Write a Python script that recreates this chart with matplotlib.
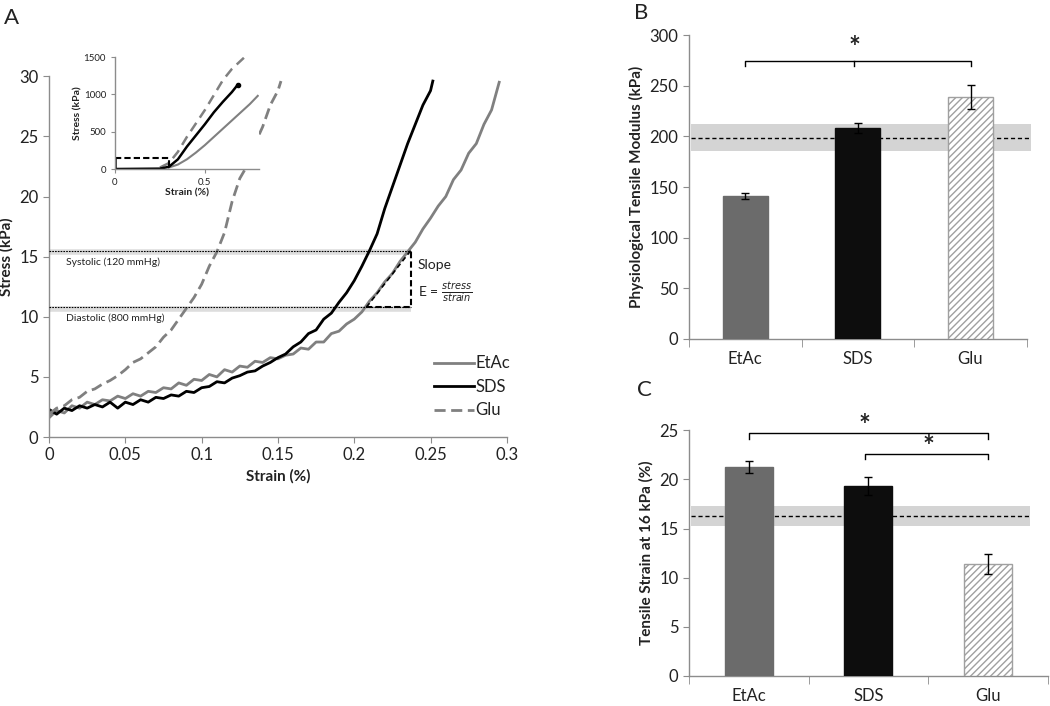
import matplotlib
matplotlib.use('Agg')
import matplotlib.pyplot as plt

plt.rcParams['font.family'] = ['Lato', 'DejaVu Sans']
plt.rcParams['mathtext.fontset'] = 'dejavusans'

# ---- panel A: stress-strain curves ----
etac_strain = [0.000, 0.005, 0.010, 0.015, 0.020, 0.025, 0.030, 0.035, 0.040, 0.045,
               0.050, 0.055, 0.060, 0.065, 0.070, 0.075, 0.080, 0.085, 0.090, 0.095,
               0.100, 0.105, 0.110, 0.115, 0.120, 0.125, 0.130, 0.135, 0.140, 0.145,
               0.150, 0.155, 0.160, 0.165, 0.170, 0.175, 0.180, 0.185, 0.190, 0.195,
               0.200, 0.205, 0.210, 0.215, 0.220, 0.225, 0.230, 0.235, 0.240, 0.245,
               0.250, 0.255, 0.260, 0.265, 0.270, 0.275, 0.280, 0.285, 0.290, 0.295]
etac_stress = [1.6, 2.2, 2.0, 2.6, 2.4, 2.9, 2.7, 3.1, 3.0, 3.4,
               3.2, 3.6, 3.4, 3.8, 3.7, 4.1, 4.0, 4.5, 4.3, 4.8,
               4.7, 5.2, 5.0, 5.6, 5.4, 5.9, 5.8, 6.3, 6.2, 6.6,
               6.5, 6.8, 6.9, 7.4, 7.3, 7.9, 7.9, 8.6, 8.8, 9.4,
               9.8, 10.4, 11.3, 12.0, 12.9, 13.6, 14.6, 15.4, 16.2, 17.3,
               18.2, 19.2, 20.0, 21.4, 22.2, 23.6, 24.4, 26.0, 27.2, 29.5]

sds_strain = [0.000, 0.005, 0.010, 0.015, 0.020, 0.025, 0.030, 0.035, 0.040, 0.045,
              0.050, 0.055, 0.060, 0.065, 0.070, 0.075, 0.080, 0.085, 0.090, 0.095,
              0.100, 0.105, 0.110, 0.115, 0.120, 0.125, 0.130, 0.135, 0.140, 0.145,
              0.150, 0.155, 0.160, 0.165, 0.170, 0.175, 0.180, 0.185, 0.190, 0.195,
              0.200, 0.205, 0.210, 0.215, 0.220, 0.225, 0.230, 0.235, 0.240, 0.245,
              0.250, 0.2515]
sds_stress = [2.3, 1.9, 2.4, 2.2, 2.6, 2.4, 2.7, 2.5, 2.9, 2.4,
              2.9, 2.7, 3.1, 2.9, 3.3, 3.2, 3.5, 3.4, 3.8, 3.7,
              4.1, 4.2, 4.6, 4.5, 4.9, 5.1, 5.4, 5.5, 5.9, 6.2,
              6.6, 6.9, 7.5, 7.9, 8.6, 8.9, 9.8, 10.3, 11.2, 12.0,
              13.0, 14.2, 15.5, 16.9, 19.0, 20.8, 22.6, 24.4, 26.0, 27.6,
              28.8, 29.6]

glu_strain = [0.000, 0.005, 0.010, 0.015, 0.020, 0.025, 0.030, 0.035, 0.040, 0.045,
              0.050, 0.055, 0.060, 0.065, 0.070, 0.075, 0.080, 0.085, 0.090, 0.095,
              0.100, 0.105, 0.110, 0.115, 0.120, 0.125, 0.130, 0.135, 0.140, 0.145,
              0.150, 0.152]
glu_stress = [1.9, 2.4, 2.6, 3.1, 3.3, 3.8, 4.0, 4.4, 4.7, 5.1,
              5.6, 6.2, 6.5, 7.0, 7.5, 8.3, 8.9, 9.8, 10.7, 11.6,
              12.7, 14.2, 15.4, 17.0, 19.6, 21.5, 22.6, 24.4, 25.8, 27.6,
              28.8, 29.6]

systolic, diastolic = 15.5, 10.8
slope_x = [0.208, 0.237]

# inset: full curves
in_sds_x = [0.0, 0.25, 0.30, 0.35, 0.40, 0.45, 0.50, 0.55, 0.60, 0.65, 0.683]
in_sds_y = [0, 5, 30, 130, 300, 450, 600, 760, 900, 1030, 1130]
in_glu_x = [0.25, 0.30, 0.35, 0.40, 0.45, 0.50, 0.55, 0.60, 0.65, 0.717]
in_glu_y = [20, 80, 230, 430, 610, 790, 990, 1190, 1340, 1490]
in_etac_x = [0.30, 0.35, 0.40, 0.45, 0.50, 0.55, 0.60, 0.65, 0.70, 0.75, 0.794]
in_etac_y = [20, 60, 130, 220, 320, 430, 540, 650, 760, 870, 980]

# ---- panels B and C: bars ----
groups = ['EtAc', 'SDS', 'Glu']
modulus = [141, 208, 239]
modulus_err = [3, 5, 12]
modulus_native, modulus_band = 199, (186, 212)
strain16 = [21.3, 19.3, 11.4]
strain16_err = [0.6, 0.9, 1.0]
strain_native, strain_band = 16.3, (15.3, 17.3)

GRAY = '#808080'
SPINE = '#8c8c8c'
TXT = '#222222'

plt.rcParams['hatch.color'] = '#a0a0a0'
plt.rcParams['hatch.linewidth'] = 1.0

fig = plt.figure(figsize=(10.5, 7.06), dpi=100)


def style(ax, fs=11):
    for s in ('top', 'right'):
        ax.spines[s].set_visible(False)
    for s in ('left', 'bottom'):
        ax.spines[s].set_color(SPINE)
        ax.spines[s].set_linewidth(1.0)
    ax.tick_params(colors=SPINE, labelcolor=TXT, labelsize=fs, length=4,
                   direction='out')


# A
ax = fig.add_axes([0.0467, 0.381, 0.436, 0.511])
style(ax, 12)
ax.plot(etac_strain, etac_stress, color=GRAY, lw=2.0, label='EtAc')
ax.plot(sds_strain, sds_stress, color='black', lw=2.0, label='SDS')
ax.plot(glu_strain, glu_stress, color=GRAY, lw=2.0, ls=(0, (4, 2)), label='Glu')
for yv in (systolic, diastolic):
    ax.plot([0, slope_x[1]], [yv - 0.12, yv - 0.12], color='#dddddd', lw=4,
            zorder=1, solid_capstyle='butt')
    ax.plot([0, slope_x[1]], [yv, yv], color='black', lw=0.8, ls=(0, (1.5, 1)),
            zorder=3)
ax.plot([slope_x[0], slope_x[1], slope_x[1]], [diastolic, diastolic, systolic],
        color='black', lw=1.5, ls=(0, (3, 1.5)), zorder=4)
ax.plot(slope_x, [diastolic, systolic], color='black', lw=1.2,
        ls=(0, (3, 2)), zorder=4)
ax.text(0.011, systolic - 0.55, 'Systolic (120 mmHg)', fontsize=7.5, va='top',
        color=TXT)
ax.text(0.011, diastolic - 0.55, 'Diastolic (800 mmHg)', fontsize=7.5, va='top',
        color=TXT)
ax.text(0.2418, 14.3, 'Slope', fontsize=10, va='center', color=TXT)
ax.text(0.2418, 12.0, r'E = $\mathit{\frac{stress}{strain}}$', fontsize=10,
        va='center', color=TXT)
ax.set_xlim(0, 0.3)
ax.set_ylim(0, 30)
ax.set_xticks([0, 0.05, 0.1, 0.15, 0.2, 0.25, 0.3])
ax.set_xticklabels(['0', '0.05', '0.1', '0.15', '0.2', '0.25', '0.3'])
ax.set_yticks(range(0, 31, 5))
ax.set_xlabel('Strain (%)', fontweight='bold', fontsize=11, color=TXT)
ax.set_ylabel('Stress (kPa)', fontweight='bold', fontsize=11, color=TXT)
ax.yaxis.set_label_coords(-0.078, 0.5)
leg = ax.legend(loc='lower right', bbox_to_anchor=(1.04, 0.01), frameon=False,
                fontsize=12, handlelength=2.4, handletextpad=0.1,
                labelspacing=0.45)
for t in leg.get_texts():
    t.set_color(TXT)

# inset
ins = fig.add_axes([0.1095, 0.7606, 0.137, 0.1586])
style(ins, 7)
ins.tick_params(length=3)
ins.plot(in_etac_x, in_etac_y, color=GRAY, lw=1.5)
ins.plot(in_glu_x, in_glu_y, color=GRAY, lw=1.8, ls=(0, (4, 2.5)))
ins.plot(in_sds_x, in_sds_y, color='black', lw=1.8)
ins.plot([in_sds_x[-1]], [in_sds_y[-1]], 'o', color='black', ms=3)
ins.plot([0, 0.3, 0.3], [150, 150, 0], color='black', lw=1.5, ls=(0, (3, 1.5)))
ins.plot([0, 0], [0, 150], color='black', lw=1.8)
ins.set_xlim(0, 0.8)
ins.set_ylim(0, 1500)
ins.set_xticks([0, 0.5])
ins.set_xticklabels(['0', '0.5'])
ins.set_yticks([0, 500, 1000, 1500])
ins.set_xlabel('Strain (%)', fontweight='bold', fontsize=7.5, color=TXT,
               labelpad=1)
ins.set_ylabel('Stress (kPa)', fontweight='bold', fontsize=7.5, color=TXT,
               labelpad=1)


def bar_panel(rect, vals, errs, native, band, band_x, ylim, yticks, ylabel):
    bx = fig.add_axes(rect)
    style(bx, 12)
    pos = list(range(len(groups)))
    bx.fill_between(band_x, band[0], band[1], color='#d4d4d4', lw=0,
                    zorder=1, clip_on=False)
    bx.plot(band_x, [native, native], color='black', lw=1.0,
            ls=(0, (3, 2)), zorder=2, clip_on=False)
    bars = bx.bar(pos, vals, width=0.4, zorder=3,
                  color=['#6b6b6b', '#0d0d0d', 'white'],
                  edgecolor=['#6b6b6b', '#0d0d0d', '#a0a0a0'], lw=1.0)
    bars[2].set_hatch('/////')
    bx.errorbar(pos, vals, yerr=errs, fmt='none', ecolor='black', elinewidth=1,
                capsize=3, capthick=1, zorder=4)
    bx.set_xlim(-0.5, 2.5)
    bx.set_ylim(*ylim)
    bx.set_yticks(yticks)
    bx.set_xticks(pos)
    bx.set_xticklabels(groups)
    bx.tick_params(axis='x', length=0, pad=9)
    bx.set_xticks([-0.5, 0.5, 1.5, 2.5], minor=True)
    bx.tick_params(axis='x', which='minor', length=6, colors=SPINE)
    bx.set_ylabel(ylabel, fontweight='bold', fontsize=11, color=TXT)
    return bx


# B
bx = bar_panel([0.656, 0.520, 0.322, 0.430], modulus, modulus_err,
               modulus_native, modulus_band, [-0.48, 2.54], (0, 300),
               range(0, 301, 50), 'Physiological Tensile Modulus (kPa)')
bx.plot([0, 0, 2, 2], [270, 275, 275, 270], color='black', lw=1.0,
        clip_on=False)
bx.plot([0.97, 0.97], [275, 270], color='black', lw=1.0)
bx.text(0.97, 287, '*', fontsize=20, fontweight='bold', ha='center',
        va='center', color=TXT)

# C
cx = bar_panel([0.656, 0.0425, 0.342, 0.348], strain16, strain16_err,
               strain_native, strain_band, [-0.48, 2.35], (0, 25),
               range(0, 26, 5), 'Tensile Strain at 16 kPa (%)')
cx.plot([0, 0, 2, 2], [24.1, 24.7, 24.7, 24.1], color='black', lw=1.0,
        clip_on=False)
cx.plot([0.97, 0.97, 2, 2], [22.1, 22.6, 22.6, 22.1], color='black', lw=1.0,
        clip_on=False)
cx.text(0.97, 25.4, '*', fontsize=20, fontweight='bold', ha='center',
        va='center', color=TXT, clip_on=False)
cx.text(1.5, 23.3, '*', fontsize=20, fontweight='bold', ha='center',
        va='center', color=TXT)

fig.text(0.004, 0.975, 'A', fontsize=16, va='center', color=TXT)
fig.text(0.604, 0.982, 'B', fontsize=16, va='center', color=TXT)
fig.text(0.607, 0.447, 'C', fontsize=16, va='center', color=TXT)

fig.savefig('out.png', dpi=100)
